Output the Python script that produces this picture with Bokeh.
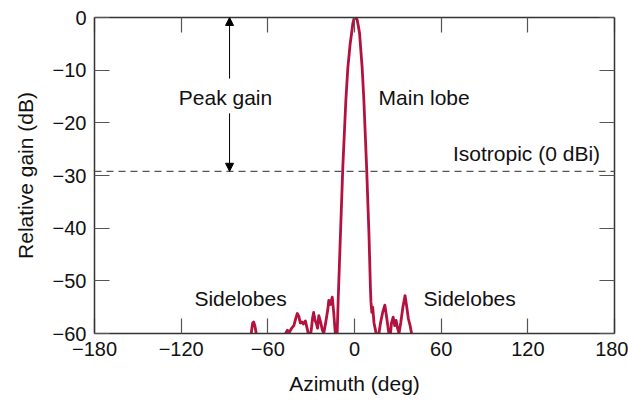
from bokeh.plotting import figure
from bokeh.models import Range1d, FixedTicker, LinearAxis, Span, Label, Arrow, NormalHead
from bokeh.embed import file_html
from bokeh.resources import INLINE

# Antenna pattern: azimuth (deg), relative gain (dB)
azimuth = [
    -73, -71.5, -70.5, -69.8, -69, -68, -67,
    -60, -49, -47.7, -46.5, -45, -43.5, -42, -40.5, -39.6, -38.5, -37.5, -36.5,
    -35.5, -34, -33, -32, -31, -30, -29, -28.3, -27.3, -26.3, -25.6, -24.7,
    -23.5, -22.3, -21.3, -20, -18.5, -17.8, -16.7, -15.4, -14.4, -13.3, -12.8,
    -12, -11.3, -9.7, -8.1, -6, -4.6, -3, -2, -1.2, -0.4, 0.75, 1.8, 2.6, 3.5,
    5.3, 6.5, 8.4, 10, 11.1, 11.4, 12, 12.6, 13.5, 15, 16, 16.9, 18, 19.5, 21,
    22.3, 23.8, 24.6, 25.6, 26.8, 27.8, 28.8, 29.8, 30.8, 32, 33.5, 35, 36.2,
    37.3, 38.5, 39.5, 40.5,
]
gain = [
    -64, -60, -58, -57.8, -58.5, -60, -64,
    -75, -64, -60, -59.4, -59.7, -59, -58.5, -57, -56.2, -56.8, -58, -57.8,
    -58.2, -57.6, -58.8, -60, -61, -59.5, -57, -56, -57.5, -58.2, -59, -56.6,
    -57.8, -59.3, -60, -58, -55.5, -53.7, -54.5, -53.1, -56, -60, -63,
    -60, -53.7, -41, -28.5, -15.8, -9.5, -5, -3, -1.2, -0.3, 0, -0.4, -1.5, -3,
    -9.5, -15.8, -28.5, -41, -52, -54, -56, -55, -58, -60, -62, -60, -58, -56, -54.6,
    -57, -60, -61, -58, -56.9, -58.5, -57.5, -59, -60, -58, -55, -52.8, -55,
    -57.2, -58.5, -60, -64,
]

x_ticks = [-180, -120, -60, 0, 60, 120, 180]
y_ticks = [-60, -50, -40, -30, -20, -10, 0]
isotropic_level = -29.2

FONT = "Liberation Sans"
RED = "#b3123f"

p = figure(frame_width=520, frame_height=316, x_range=Range1d(-180, 180), y_range=Range1d(-60, 0),
           output_backend="svg", toolbar_location=None,
           min_border_left=94, min_border_right=14, min_border_top=17, min_border_bottom=62)
p.outline_line_color = None
p.xgrid.visible = False
p.ygrid.visible = False
p.background_fill_color = "white"
p.border_fill_color = "white"

def lab(v):
    return ("\u2212" + str(-v)) if v < 0 else str(v)

def style_axis(ax, ticks, show_labels):
    ax.ticker = FixedTicker(ticks=ticks)
    ax.axis_line_color = "#333333"
    ax.axis_line_width = 1.5
    ax.major_tick_in = 15
    ax.major_tick_out = 0
    ax.major_tick_line_color = "#555555"
    ax.major_tick_line_width = 1.2
    ax.minor_tick_line_color = None
    if show_labels:
        ax.major_label_overrides = {t: lab(t) for t in ticks}
        ax.major_label_text_font = FONT
        ax.major_label_text_font_size = "20px"
        ax.major_label_text_color = "#111111"
        ax.major_label_standoff = 8
        ax.axis_label_text_font = FONT
        ax.axis_label_text_font_size = "21px"
        ax.axis_label_text_font_style = "normal"
        ax.axis_label_text_color = "#111111"
        ax.axis_label_standoff = 13
    else:
        ax.major_label_text_font_size = "0px"
        ax.major_label_text_color = None
        ax.major_label_standoff = 0

style_axis(p.xaxis[0], x_ticks, True)
style_axis(p.yaxis[0], y_ticks, True)
p.xaxis[0].axis_label = "Azimuth (deg)"
p.yaxis[0].axis_label = "Relative gain (dB)"

top = LinearAxis()
right = LinearAxis()
style_axis(top, x_ticks, False)
style_axis(right, y_ticks, False)
p.add_layout(top, "above")
p.add_layout(right, "right")

p.add_layout(Span(location=isotropic_level, dimension="width", line_dash="7 5",
                  line_color="#555555", line_width=1.2))

p.line(azimuth, gain, line_color=RED, line_width=2.8, line_join="round")

def add_label(x, y, text, align="center"):
    p.add_layout(Label(x=x, y=y, text=text, text_align=align, text_baseline="middle",
                       text_font=FONT, text_font_size="21px", text_color="#111111"))

add_label(-89.3, -15.2, "Peak gain")
add_label(16.7, -15.2, "Main lobe", "left")
add_label(170, -25.8, "Isotropic (0 dBi)", "right")
add_label(-78.9, -53.4, "Sidelobes")
add_label(79.7, -53.4, "Sidelobes")

p.add_layout(Arrow(end=NormalHead(size=8, fill_color="black", line_color="black"),
                   x_start=-86.5, y_start=-11.6, x_end=-86.5, y_end=0,
                   line_color="black", line_width=1))
p.add_layout(Arrow(end=NormalHead(size=8, fill_color="black", line_color="black"),
                   x_start=-86.5, y_start=-18.2, x_end=-86.5, y_end=isotropic_level,
                   line_color="black", line_width=1))

open("out.html", "w").write(file_html(p, INLINE))
